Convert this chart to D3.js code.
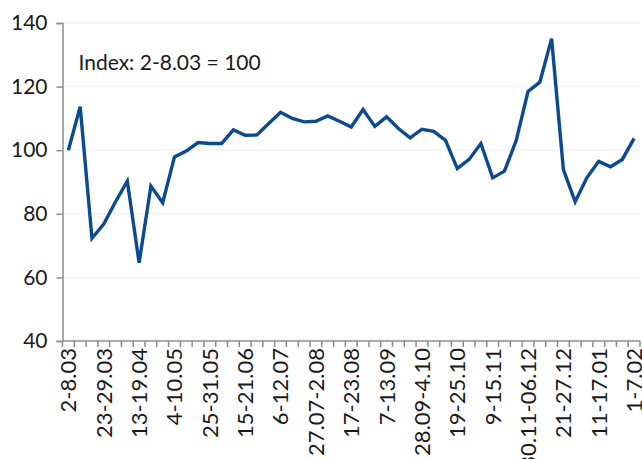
<!DOCTYPE html>
<html>
<head>
<meta charset="utf-8">
<script src="https://cdn.jsdelivr.net/npm/d3@7"></script>
<style>
  body { margin: 0; background: #fff; }
  svg text { font-family: Lato, "Open Sans", sans-serif; fill: #1a1a1a; }
</style>
</head>
<body>
<div id="chart"></div>
<script>
// weekly periods, 2 March 2020 - 7 February 2021
var weeks = [
    "2-8.03", "9-15.03", "16-22.03", "23-29.03", "30.03-5.04", "6-12.04", "13-19.04",
    "20-26.04", "27.04-3.05", "4-10.05", "11-17.05", "18-24.05", "25-31.05", "1-7.06",
    "8-14.06", "15-21.06", "22-28.06", "29.06-5.07", "6-12.07", "13-19.07", "20-26.07",
    "27.07-2.08", "3-9.08", "10-16.08", "17-23.08", "24-30.08", "31.08-6.09", "7-13.09",
    "14-20.09", "21-27.09", "28.09-4.10", "5-11.10", "12-18.10", "19-25.10", "26.10-1.11",
    "2-8.11", "9-15.11", "16-22.11", "23-29.11", "30.11-06.12", "7-13.12", "14-20.12",
    "21-27.12", "28.12-3.01", "4-10.01", "11-17.01", "18-24.01", "25-31.01", "1-7.02"
];

// index values (2-8.03 = 100)
var values = [
    100, 113.7, 72.3, 76.8, 83.8, 90.3, 64.6, 88.7, 83.5, 97.9,
    99.7, 102.4, 102.1, 102.1, 106.4, 104.7, 104.8, 108.4, 111.9, 110.0,
    108.9, 109.1, 110.8, 109.1, 107.3, 112.8, 107.5, 110.5, 106.8, 103.9,
    106.6, 105.9, 103.1, 94.2, 97.1, 102.1, 91.3, 93.4, 103.1, 118.5,
    121.4, 135.1, 93.9, 83.8, 91.4, 96.5, 94.8, 97.1, 103.7
];

var yTicks = [40, 60, 80, 100, 120, 140];
var labelEvery = 3;

var data = weeks.map(function(w, i) { return {week: w, value: values[i]}; });

var margin = {top: 23, bottom: 118, left: 62.5, right: 2},
    width = 642 - margin.left - margin.right,
    height = 459 - margin.top - margin.bottom;

var svg = d3.select("#chart").append("svg")
    .attr("width", 642)
    .attr("height", 459)
    .append("g")
    .attr("transform", `translate(${margin.left},${margin.top})`);

// scales
var x = d3.scaleBand()
    .domain(weeks)
    .range([0, width])
    .padding(0);

var y = d3.scaleLinear()
    .domain([40, 140])
    .range([height, 0]);

// grid lines
svg.append("g")
    .selectAll("line")
    .data(yTicks.filter(d => d > 40))
    .join("line")
    .attr("x1", 0)
    .attr("x2", width)
    .attr("y1", d => y(d))
    .attr("y2", d => y(d))
    .attr("stroke", "#ededed")
    .attr("stroke-width", 1);

// Y axis
var yAxis = svg.append("g")
    .call(d3.axisLeft(y).tickValues(yTicks).tickSize(6).tickPadding(9));
yAxis.select(".domain").attr("stroke", "#8c8c8c").attr("stroke-width", 1.5);
yAxis.selectAll(".tick line").attr("stroke", "#8c8c8c").attr("stroke-width", 1.5);
yAxis.selectAll("text")
    .attr("font-size", "21px")
    .attr("font-family", null);

// X axis line and tick marks at band boundaries
var xAxis = svg.append("g")
    .attr("transform", `translate(0, ${height})`);

xAxis.append("line")
    .attr("x1", 0)
    .attr("x2", width)
    .attr("stroke", "#8c8c8c")
    .attr("stroke-width", 1.5);

xAxis.selectAll(".xtick")
    .data(weeks.concat(["end"]))
    .join("line")
    .attr("class", "xtick")
    .attr("x1", d => d === "end" ? width : x(d))
    .attr("x2", d => d === "end" ? width : x(d))
    .attr("y1", 0)
    .attr("y2", 6)
    .attr("stroke", "#8c8c8c")
    .attr("stroke-width", 1.5);

xAxis.selectAll(".xlabel")
    .data(weeks.filter((d, i) => i % labelEvery === 0))
    .join("text")
    .attr("class", "xlabel")
    .attr("transform", d => `translate(${x(d) + x.bandwidth() / 2}, 7) rotate(-90)`)
    .attr("text-anchor", "end")
    .attr("dy", "0.36em")
    .attr("font-size", "22px")
    .text(d => d);

// line
var line = d3.line()
    .x(d => x(d.week) + x.bandwidth() / 2)
    .y(d => y(d.value));

svg.append("path")
    .datum(data)
    .attr("fill", "none")
    .attr("stroke", "#0b4a8f")
    .attr("stroke-width", 3.4)
    .attr("stroke-linejoin", "miter")
    .attr("d", line);

// note
svg.append("text")
    .attr("x", 16)
    .attr("y", 47)
    .attr("font-size", "21px")
    .text("Index: 2-8.03 = 100");
</script>
</body>
</html>
